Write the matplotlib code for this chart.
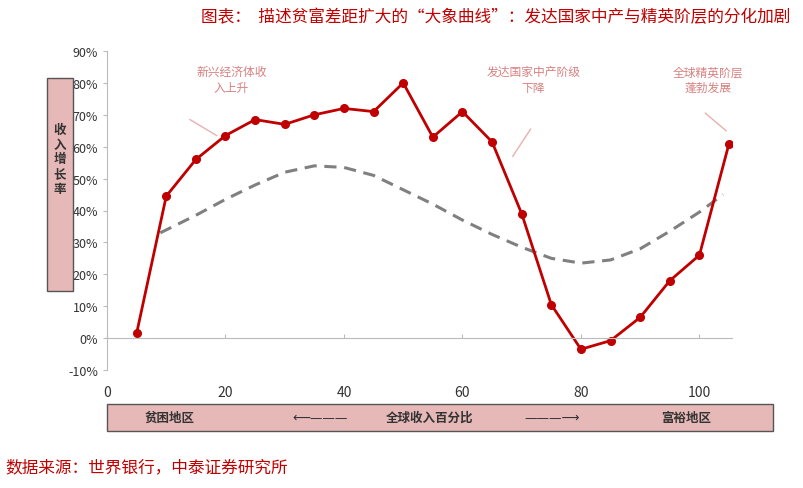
import matplotlib.pyplot as plt
from matplotlib.patches import Rectangle
from matplotlib.transforms import blended_transform_factory

plt.rcParams['font.family'] = ['Noto Sans CJK SC', 'DejaVu Sans']

# income percentile vs real income growth (%)
pct = [5, 10, 15, 20, 25, 30, 35, 40, 45, 50, 55, 60, 65, 70, 75, 80, 85, 90, 95, 100, 105]
growth = [1.5, 44.5, 56, 63.5, 68.5, 67, 70, 72, 71, 80, 63, 71, 61.5, 39, 10.5, -3.5, -0.8, 6.5, 18, 26, 61]

# trend curve (dashed)
trend_x = [9, 15, 20, 25, 30, 35, 40, 45, 50, 55, 60, 65, 70, 75, 80, 85, 90, 95, 100, 104]
trend_y = [33, 38.5, 43.5, 48, 52, 54, 53.5, 51, 46.5, 42, 37, 32.5, 28.5, 25, 23.5, 24.5, 28, 33.5, 39.5, 45]

xticks = [0, 20, 40, 60, 80, 100]
yticks = list(range(-10, 91, 10))

red = '#C00000'
pink = '#E6B8B7'
note = '#D98080'

fig = plt.figure(figsize=(8.04, 4.89), dpi=100)
ax = fig.add_axes([107 / 804, 1 - 371 / 489, (732 - 107) / 804, (371 - 52) / 489])

ax.plot(trend_x, trend_y, color='#808080', lw=2.2, ls=(0, (4, 2.5)))
ax.plot(pct, growth, color=red, lw=2, marker='o', ms=5.5)

ax.set_xlim(0, 105.5)
ax.set_ylim(-10, 90)
ax.set_yticks(yticks)
ax.set_yticklabels([f'{v}%' for v in yticks], fontsize=9, color='#333333')
for s in ['top', 'right']:
    ax.spines[s].set_visible(False)
ax.spines['left'].set_color('#BBBBBB')
ax.spines['bottom'].set_position(('data', 0))
ax.spines['bottom'].set_color('#BBBBBB')
ax.tick_params(axis='y', color='#BBBBBB', length=3)
ax.tick_params(axis='x', color='#BBBBBB', length=3, direction='in', labelbottom=False)
ax.set_xticks(xticks)
tr = blended_transform_factory(ax.transData, ax.transAxes)
for v in xticks:
    ax.text(v, -0.07, str(v), transform=tr, ha='center', va='center', fontsize=10, color='#333333')

# annotations
ax.text(21, 81, '新兴经济体收\n入上升', ha='center', va='center', fontsize=8.5, color=note,
        style='italic', linespacing=1.3)
ax.plot([14, 18.5], [68.5, 63.5], color='#E8B0B0', lw=1)
ax.text(72, 81, '发达国家中产阶级\n下降', ha='center', va='center', fontsize=8.5, color=note,
        style='italic', linespacing=1.3)
ax.plot([68.5, 71.5], [57, 65.5], color='#E8B0B0', lw=1)
ax.text(101.5, 81, '全球精英阶层\n蓬勃发展', ha='center', va='center', fontsize=8.5, color=note,
        style='italic', linespacing=1.3)
ax.plot([101, 104.5], [70.5, 65], color='#E8B0B0', lw=1)

# y label box
fig.patches.append(Rectangle((47 / 804, 1 - 292 / 489), 26 / 804, 213 / 489, transform=fig.transFigure,
                             facecolor=pink, edgecolor='#555555', lw=1))
fig.text(60 / 804, 1 - 160 / 489, '收\n入\n增\n长\n率', ha='center', va='center', fontsize=9,
         fontweight='bold', color='#333333', linespacing=1.2)

# bottom band
fig.patches.append(Rectangle((107 / 804, 1 - 432 / 489), 666 / 804, 27 / 489, transform=fig.transFigure,
                             facecolor=pink, edgecolor='#555555', lw=1))
yb = 1 - 418 / 489
fig.text(170 / 804, yb, '贫困地区', ha='center', va='center', fontsize=9, fontweight='bold', color='#333333')
fig.text(430 / 804, yb, '全球收入百分比', ha='center', va='center', fontsize=9, fontweight='bold', color='#333333')
fig.text(686 / 804, yb, '富裕地区', ha='center', va='center', fontsize=9, fontweight='bold', color='#333333')
fig.text(320 / 804, yb, '⟵———', ha='center', va='center', fontsize=9, color='#333333', family='DejaVu Sans')
fig.text(552 / 804, yb, '———⟶', ha='center', va='center', fontsize=9, color='#333333', family='DejaVu Sans')

fig.text(790 / 804, 1 - 18 / 489, '图表：  描述贫富差距扩大的“大象曲线”：发达国家中产与精英阶层的分化加剧',
         ha='right', va='center', fontsize=12, color=red)
fig.text(5 / 804, 1 - 468 / 489, '数据来源：世界银行，中泰证券研究所', ha='left', va='center', fontsize=12, color=red)

fig.savefig('out.png', dpi=100)
